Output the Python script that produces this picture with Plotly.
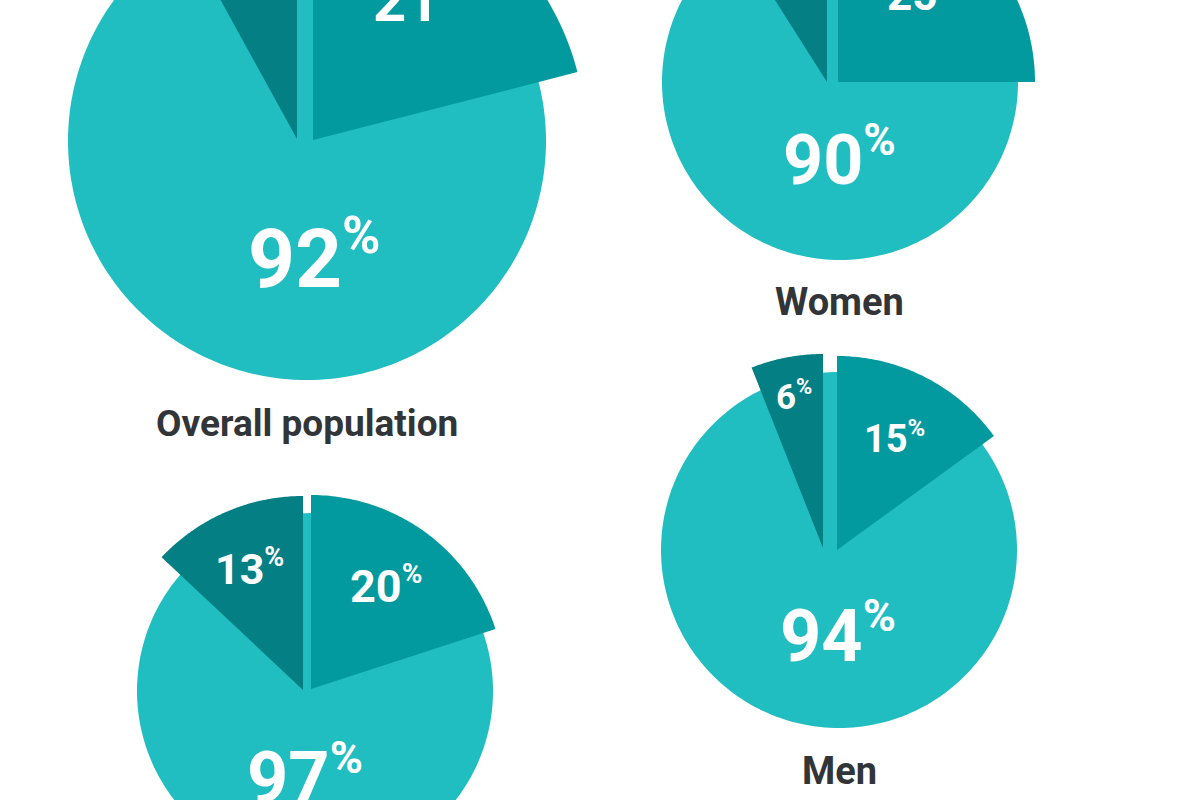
import math
import plotly.graph_objects as go

# ---------------- data ----------------
groups = ["Overall population", "Women", "Men", ""]
main_pct = [92, 90, 94, 97]      # big light circle label
mid_pct = [21, 25, 15, 20]       # exploded medium wedge (clockwise from 12 o'clock)
dark_pct = [8, 9, 6, 13]         # exploded dark wedge (counter-clockwise from 12 o'clock)

# ---------------- layout (pixel space) ----------------
LIGHT = "#20BDC1"
MID = "#029A9E"
DARK = "#047F83"
TITLE_C = "#323538"
FONT = "Roboto"

centers = [(307, 141), (840, 82), (839, 550), (315, 691)]
light_r = [239, 178, 178, 178]
wedge_r = [273, 197, 194, 194]
dark_tip_off = [(-10, -2), (-13, 0), (-16, -2), (-12, -1)]
mid_tip_off = [(6, -1), (-2, 0), (-2, 0), (-4, -2)]
main_lab_off = [(7, 115), (-1, 75), (-1, 84), (-10, 85)]
main_size = [82, 70, 72, 72]
mid_lab_frac = [0.64, 0.61, 0.65, 0.66]
mid_size = [58, 44, 38, 45]
dark_lab_frac = [0.69, 0.69, 0.80, 0.69]
dark_size = [56, 40, 35, 43]
title_pos = [(307, 423), (839, 302), (839, 771), (315, 900)]
title_size = [37, 38, 38, 38]


def wedge(tip, R, start_deg, span_deg, n=80):
    tx, ty = tip
    xs, ys = [tx], [ty]
    for i in range(n + 1):
        a = math.radians(start_deg + span_deg * i / n)
        xs.append(tx + R * math.sin(a))
        ys.append(ty - R * math.cos(a))
    xs.append(tx)
    ys.append(ty)
    return xs, ys


def pct_text(v, size):
    s = round(size * 0.63)
    return f"{v}<sup><span style='font-size:{s}px'>%</span></sup>"


def label(x, y, text, size, color="white"):
    d = dict(x=x, y=y, text=text, yanchor="middle",
             font=dict(family=FONT, size=size, color=color, weight=700))
    if y < 8:  # anchor must stay inside the visible range: anchor by bottom edge
        d.update(y=y + 0.6 * size, yanchor="bottom")
    return d


fig = go.Figure()
annotations = []

for i in range(len(groups)):
    cx, cy = centers[i]
    # light full circle
    xs, ys = wedge((cx, cy), light_r[i], 0, 360, n=240)
    fig.add_trace(go.Scatter(x=xs[1:-1], y=ys[1:-1], fill="toself", fillcolor=LIGHT,
                             mode="none", hoverinfo="skip", showlegend=False))
    # dark wedge, counter-clockwise from 12 o'clock
    dtip = (cx + dark_tip_off[i][0], cy + dark_tip_off[i][1])
    span_d = dark_pct[i] * 3.6
    xs, ys = wedge(dtip, wedge_r[i], -span_d, span_d)
    fig.add_trace(go.Scatter(x=xs, y=ys, fill="toself", fillcolor=DARK,
                             mode="none", hoverinfo="skip", showlegend=False))
    # medium wedge, clockwise from 12 o'clock
    mtip = (cx + mid_tip_off[i][0], cy + mid_tip_off[i][1])
    span_m = mid_pct[i] * 3.6
    xs, ys = wedge(mtip, wedge_r[i], 0, span_m)
    fig.add_trace(go.Scatter(x=xs, y=ys, fill="toself", fillcolor=MID,
                             mode="none", hoverinfo="skip", showlegend=False))

    # labels
    annotations.append(label(cx + main_lab_off[i][0], cy + main_lab_off[i][1],
                             pct_text(main_pct[i], main_size[i]), main_size[i]))
    am = math.radians(span_m / 2)
    rm = wedge_r[i] * mid_lab_frac[i]
    annotations.append(label(mtip[0] + rm * math.sin(am), mtip[1] - rm * math.cos(am),
                             pct_text(mid_pct[i], mid_size[i]), mid_size[i]))
    ad = math.radians(-span_d / 2)
    rd = wedge_r[i] * dark_lab_frac[i]
    annotations.append(label(dtip[0] + rd * math.sin(ad), dtip[1] - rd * math.cos(ad),
                             pct_text(dark_pct[i], dark_size[i]), dark_size[i]))
    if groups[i]:
        annotations.append(label(title_pos[i][0], title_pos[i][1], groups[i],
                                 title_size[i], TITLE_C))

for a in annotations:
    a.update(xref="x", yref="y", showarrow=False, xanchor="center")

fig.update_layout(
    width=1200, height=800,
    margin=dict(l=0, r=0, t=0, b=0),
    paper_bgcolor="white", plot_bgcolor="white",
    xaxis=dict(range=[0, 1200], visible=False, fixedrange=True),
    yaxis=dict(range=[800, 0], visible=False, fixedrange=True),
    annotations=annotations,
    showlegend=False,
)

fig.write_html("out.html")
